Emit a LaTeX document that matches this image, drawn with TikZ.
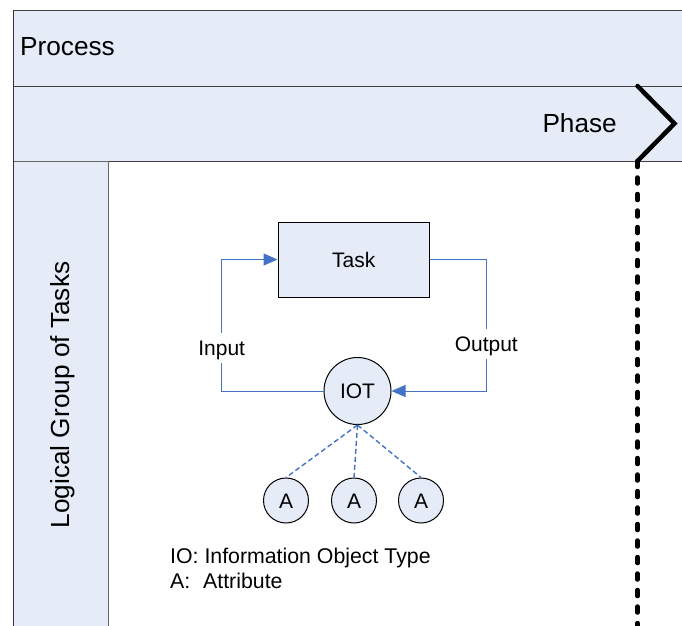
\documentclass[tikz,border=0pt]{standalone}
\usepackage{fontspec}
\setmainfont{Liberation Sans}
\usetikzlibrary{arrows.meta}
\definecolor{lightfill}{HTML}{E6ECF7}
\definecolor{connblue}{HTML}{4472C4}
\begin{document}
\begin{tikzpicture}[x=1pt,y=-1pt,
  bigfont/.style={font=\fontsize{26.2}{31}\selectfont},
  smallfont/.style={font=\fontsize{21}{25}\selectfont},
  band/.style={draw=black!75,line width=1pt,fill=lightfill},
  shapebox/.style={draw=black,line width=1pt,fill=lightfill,inner sep=0pt,smallfont,text height=15pt,text depth=0pt},
  conn/.style={draw=connblue,line width=1pt},
  tip/.style={-{Triangle[length=14pt,width=12pt]}},
  attrline/.style={draw=connblue,line width=1.4pt,dash pattern=on 5pt off 3pt},
  lbl/.style={fill=white,smallfont,text height=15pt,text depth=0pt,inner xsep=1pt,inner ysep=7.5pt},
  legend/.style={font=\fontsize{21.3}{25}\selectfont,inner sep=0pt,anchor=base west},
  boundary/.style={line width=4.5pt,line cap=round,line join=miter},
  dotline/.style={line width=4.5pt,line cap=round,dash pattern=on 6pt off 10.5pt}
]
\useasboundingbox (0,0) rectangle (682,625);
\clip (0,0) rectangle (682,625);
\fill[white] (0,0) rectangle (682,625);
% lanes
\draw[band] (13,10) rectangle (720,86);
\draw[band] (13,86) rectangle (720,161);
\draw[band,draw=black!60] (13,161) rectangle (108,660);
\draw[black!80,line width=1pt] (13,10) -- (13,660);
\node[bigfont,inner sep=0pt,anchor=base west] (process) at (20,55.5) {Process};
\node[bigfont,inner sep=0pt,anchor=base east] (phase) at (617,132) {Phase};
\node[bigfont,inner sep=0pt,anchor=base,rotate=90] (group) at (69.5,395) {Logical Group of Tasks};
% phase boundary
\coordinate (c1) at (637.5,86);
\coordinate (c2) at (674.5,123.5);
\coordinate (c3) at (637.5,161);
\coordinate (c4) at (637.5,640);
\draw[boundary] (c1) -- (c2) -- (c3);
\draw[dotline] (c3) -- (c4);
% nodes
\node[shapebox,rectangle,minimum width=151.5pt,minimum height=75pt] (task) at (353.75,259.5) {Task};
\node[shapebox,circle,minimum size=67pt] (iot) at (357.5,391) {IOT};
\node[shapebox,circle,minimum size=45pt] (a1) at (286,500.5) {A};
\node[shapebox,circle,minimum size=45pt] (a2) at (354,500.5) {A};
\node[shapebox,circle,minimum size=45pt] (a3) at (421,500.5) {A};
% connectors
\coordinate (inL) at (221.7,259.5);
\coordinate (outR) at (486.3,391);
\draw[conn,tip] (iot.west) -| (inL) -- (task.west);
\draw[conn,tip] (task.east) -| (outR) -- (iot.east);
\node[lbl] (inputlbl) at (221.7,347.5) {Input};
\node[lbl] (outputlbl) at (486.3,344) {Output};
\draw[attrline] (iot.south) -- (a1.north);
\draw[attrline] (iot.south) -- (a2.north);
\draw[attrline] (iot.south) -- (a3.north);
% legend
\node[legend] (leg1) at (170,563) {IO: Information Object Type};
\node[legend] (leg2) at (170,588) {\makebox[33pt][l]{A:}Attribute};
\end{tikzpicture}
\end{document}
